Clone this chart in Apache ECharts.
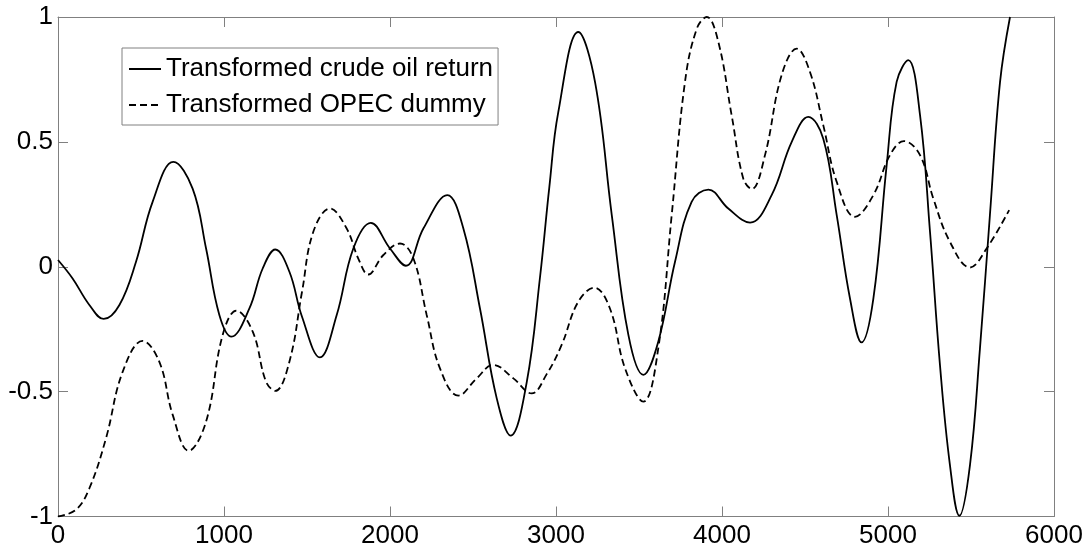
<!DOCTYPE html>
<html>
<head>
<meta charset="utf-8">
<script src="https://cdn.jsdelivr.net/npm/echarts@6/dist/echarts.min.js"></script>
<style>
html,body{margin:0;padding:0;background:#fff;}
#chart{width:1091px;height:551px;}
</style>
</head>
<body>
<div id="chart"></div>
<script>
var seriesNames = ['Transformed crude oil return', 'Transformed OPEC dummy'];
var xTicks = [0, 1000, 2000, 3000, 4000, 5000, 6000];
var yTicks = [-1, -0.5, 0, 0.5, 1];

var crudeX = [0, 88, 189, 275, 370, 470, 570, 695, 811, 892, 972, 1045, 1153, 1233, 1309, 1394, 1470, 1578, 1679, 1779, 1884, 2000, 2096, 2201, 2345, 2442, 2542, 2643, 2727, 2823, 2904, 2960, 3014, 3134, 3235, 3336, 3436, 3526, 3616, 3717, 3817, 3918, 4038, 4169, 4299, 4420, 4520, 4610, 4691, 4771, 4841, 4912, 4992, 5052, 5122, 5193, 5253, 5313, 5373, 5430, 5494, 5554, 5614, 5675, 5735];
var crudeY = [0.027, -0.047, -0.153, -0.209, -0.153, 0.02, 0.26, 0.42, 0.313, 0.073, -0.193, -0.28, -0.167, -0.007, 0.069, -0.02, -0.2, -0.363, -0.193, 0.073, 0.176, 0.073, 0.004, 0.153, 0.287, 0.153, -0.167, -0.527, -0.676, -0.465, -0.04, 0.32, 0.62, 0.94, 0.74, 0.207, -0.273, -0.433, -0.3, 0.02, 0.26, 0.309, 0.233, 0.177, 0.287, 0.5, 0.6, 0.513, 0.207, -0.127, -0.303, -0.127, 0.407, 0.74, 0.827, 0.607, 0.14, -0.393, -0.793, -0.997, -0.793, -0.327, 0.207, 0.74, 1.0];

var opecX = [0, 108, 189, 289, 390, 510, 610, 691, 787, 892, 992, 1075, 1173, 1253, 1309, 1394, 1470, 1538, 1639, 1739, 1809, 1869, 1960, 2060, 2141, 2221, 2301, 2412, 2522, 2622, 2743, 2853, 2944, 3034, 3134, 3231, 3325, 3416, 3526, 3616, 3697, 3777, 3848, 3908, 3978, 4058, 4128, 4179, 4259, 4359, 4450, 4530, 4610, 4691, 4801, 4912, 5012, 5096, 5193, 5273, 5373, 5494, 5594, 5730];
var opecY = [-1.0, -0.973, -0.887, -0.687, -0.42, -0.297, -0.38, -0.593, -0.737, -0.62, -0.273, -0.176, -0.26, -0.46, -0.497, -0.38, -0.1, 0.14, 0.233, 0.153, 0.033, -0.031, 0.047, 0.093, 0.033, -0.193, -0.407, -0.516, -0.447, -0.393, -0.447, -0.507, -0.43, -0.313, -0.14, -0.084, -0.167, -0.407, -0.54, -0.327, 0.207, 0.74, 0.953, 1.0, 0.9, 0.607, 0.353, 0.311, 0.447, 0.767, 0.873, 0.78, 0.567, 0.34, 0.2, 0.287, 0.447, 0.503, 0.447, 0.273, 0.1, -0.003, 0.073, 0.227];

function pairs(xs, ys) { return xs.map(function (x, i) { return [x, ys[i]]; }); }

var FONT = "'Liberation Sans', Arial, sans-serif";
var AXC = '#808080';

var chart = echarts.init(document.getElementById('chart'), null, {renderer: 'canvas'});
var baseX = {
  type: 'value', min: xTicks[0], max: xTicks[xTicks.length - 1], interval: 1000,
  axisLine: {show: true, onZero: false, lineStyle: {color: AXC, width: 1}},
  axisTick: {show: true, inside: true, length: 10, lineStyle: {color: AXC}},
  splitLine: {show: false}
};
var baseY = {
  type: 'value', min: yTicks[0], max: yTicks[yTicks.length - 1], interval: 0.5,
  axisLine: {show: true, onZero: false, lineStyle: {color: AXC, width: 1}},
  axisTick: {show: true, inside: true, length: 10, lineStyle: {color: AXC}},
  splitLine: {show: false}
};
chart.setOption({
  animation: false,
  backgroundColor: '#fff',
  grid: {left: 58, top: 17, right: 37, bottom: 34.5, containLabel: false},
  legend: {
    orient: 'vertical', left: 122, top: 48,
    data: seriesNames,
    itemWidth: 32, itemHeight: 14, itemGap: 6,
    padding: [6, 5, 5, 6],
    borderColor: AXC, borderWidth: 1, backgroundColor: '#fff',
    itemStyle: {opacity: 0},
    textStyle: {fontFamily: FONT, fontSize: 26, color: '#000', lineHeight: 30}
  },
  xAxis: [
    Object.assign({}, baseX, {position: 'bottom',
      axisLabel: {show: true, margin: 6, color: '#000', fontFamily: FONT, fontSize: 26,
        formatter: function (v) { return String(v); }}}),
    Object.assign({}, baseX, {position: 'top', axisLabel: {show: false}})
  ],
  yAxis: [
    Object.assign({}, baseY, {position: 'left',
      axisLabel: {show: true, margin: 5, color: '#000', fontFamily: FONT, fontSize: 26,
        formatter: function (v) { return String(v); }}}),
    Object.assign({}, baseY, {position: 'right', axisLabel: {show: false}})
  ],
  series: [
    {
      name: seriesNames[0], type: 'line', data: pairs(crudeX, crudeY),
      smooth: 0.4, symbol: 'none', showSymbol: false, clip: true,
      lineStyle: {color: '#000', width: 1.8, type: 'solid'},
      itemStyle: {color: '#000'}
    },
    {
      name: seriesNames[1], type: 'line', data: pairs(opecX, opecY),
      smooth: 0.4, symbol: 'none', showSymbol: false, clip: true,
      lineStyle: {color: '#000', width: 1.8, type: [7, 4]},
      itemStyle: {color: '#000'}
    }
  ]
});
</script>
</body>
</html>
